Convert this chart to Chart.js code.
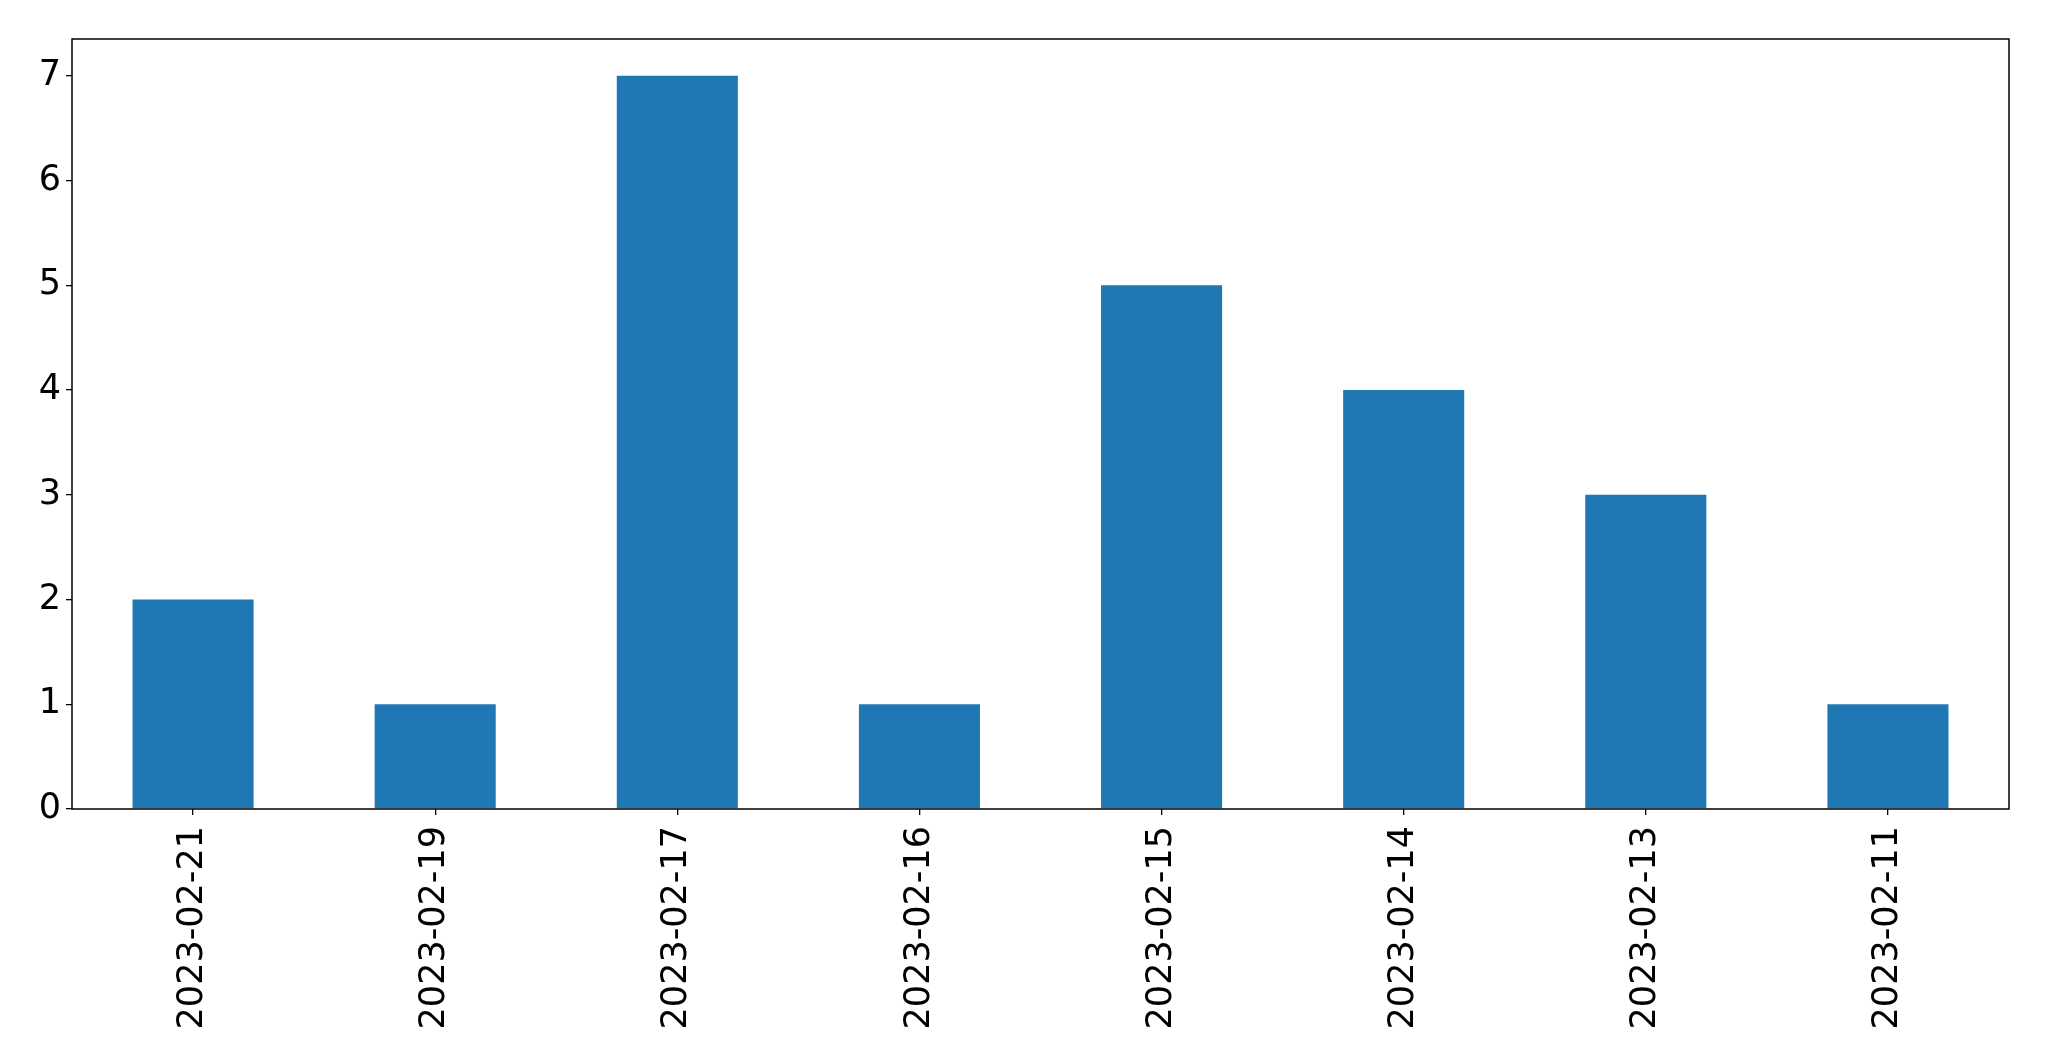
<!DOCTYPE html>
<html>

<head>
	<meta charset="utf-8">
	<title>Count per day</title>
	<script src="https://cdn.jsdelivr.net/npm/chart.js@4/dist/chart.umd.min.js"></script>
	<style>
		html, body { margin: 0; padding: 0; background: #fff; }
		#wrap { width: 2049px; height: 1061px; }
	</style>
</head>

<body>
	<div id="wrap">
		<canvas id="myChart" width="2049" height="1061"></canvas>
	</div>

	<script>
		// data
		const days = ["2023-02-21", "2023-02-19", "2023-02-17", "2023-02-16",
			"2023-02-15", "2023-02-14", "2023-02-13", "2023-02-11"];
		const counts = [2, 1, 7, 1, 5, 4, 3, 1];
		const yTop = 7.35;

		const tickFont = { family: "'DejaVu Sans'", size: 35 };

		// box round the plot area, like the spines
		const frame = {
			id: 'frame',
			afterDraw(chart) {
				const a = chart.chartArea;
				const ctx = chart.ctx;
				ctx.save();
				ctx.strokeStyle = '#000';
				ctx.lineWidth = 1.5;
				ctx.strokeRect(a.left, a.top, a.right - a.left, a.bottom - a.top);
				ctx.restore();
			}
		};

		const ctx = document.getElementById('myChart');
		const chart = new Chart(ctx, {
			type: 'bar',
			data: {
				labels: days,
				datasets: [{
					data: counts,
					backgroundColor: '#1f77b4',
					borderWidth: 0,
					barPercentage: 0.5,
					categoryPercentage: 1.0
				}]
			},
			options: {
				responsive: false,
				animation: false,
				devicePixelRatio: 1,
				layout: { padding: { top: 39, right: 40, bottom: 0, left: 0 } },
				plugins: {
					legend: { display: false },
					tooltip: { enabled: false }
				},
				scales: {
					x: {
						grid: { offset: false, drawOnChartArea: false, drawTicks: true, tickLength: 6, color: '#000', lineWidth: 1.3 },
						border: { display: false },
						ticks: {
							color: '#000',
							font: tickFont,
							minRotation: 90,
							maxRotation: 90,
							padding: 11,
							autoSkip: false
						},
						afterFit(scale) { scale.height = 1061 - 809; }
					},
					y: {
						min: 0,
						max: yTop,
						grid: { drawOnChartArea: false, drawTicks: true, tickLength: 6, color: '#000', lineWidth: 1.3 },
						border: { display: false },
						ticks: {
							color: '#000',
							font: tickFont,
							stepSize: 1,
							includeBounds: false,
							padding: 5
						},
						afterFit(scale) { scale.width = 72; }
					}
				}
			},
			plugins: [frame]
		});
	</script>
</body>

</html>
